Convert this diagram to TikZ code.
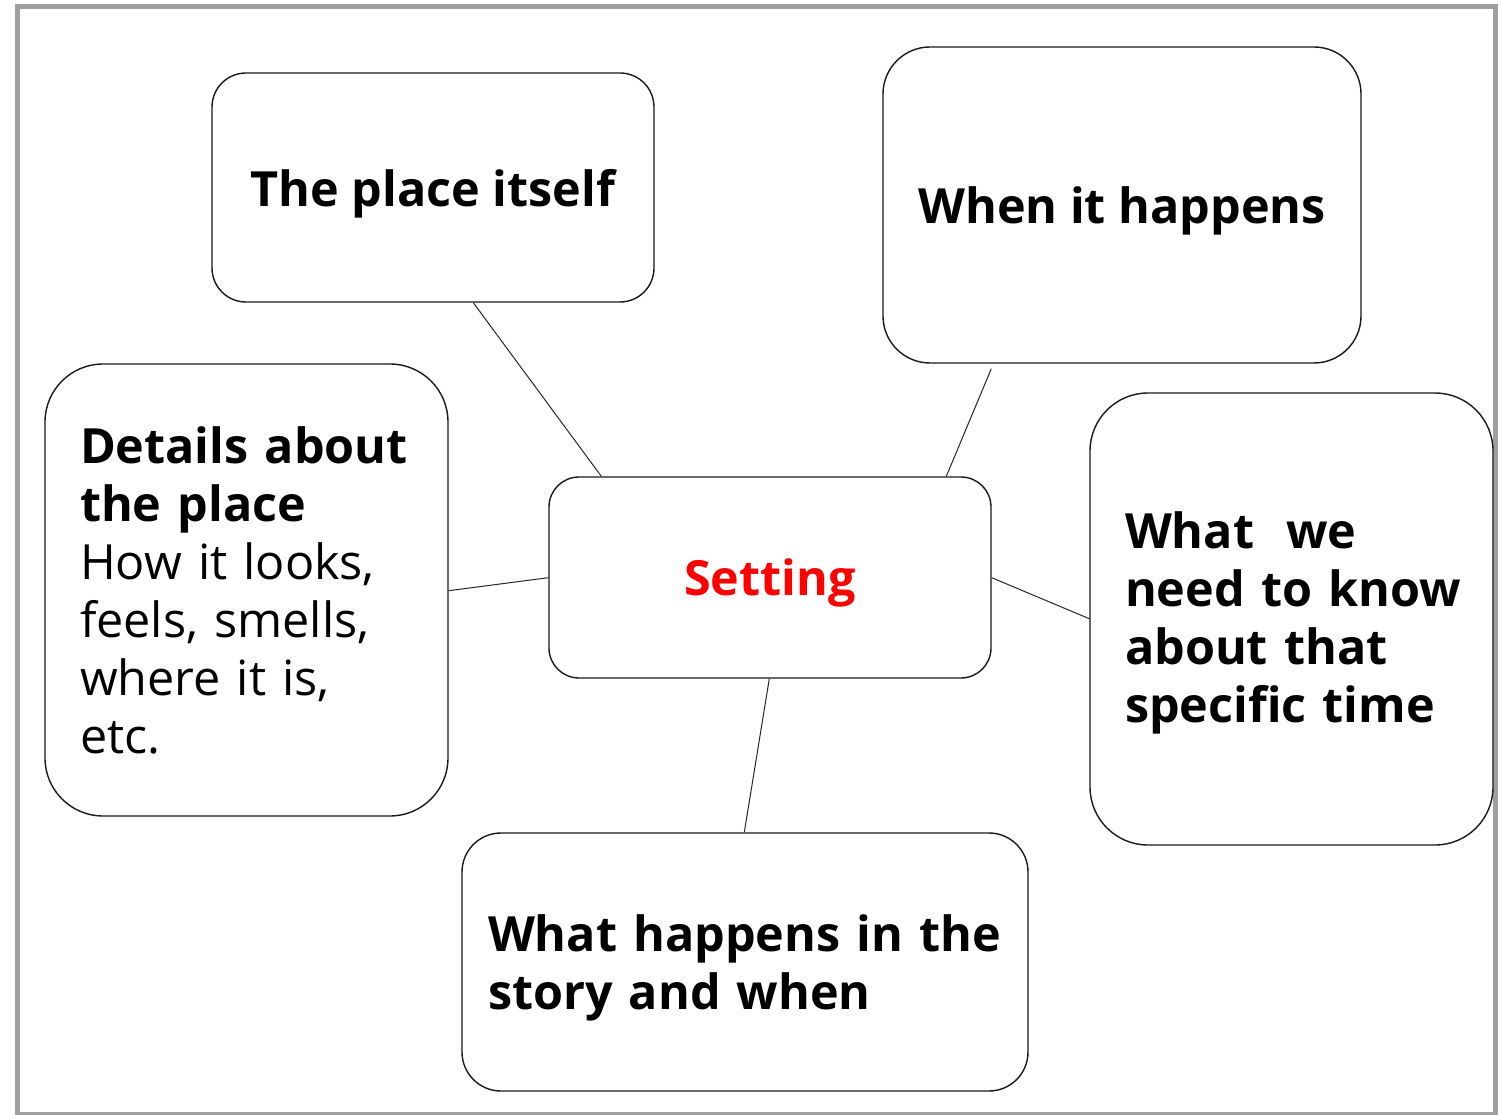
\documentclass[tikz,border=0pt]{standalone}
\usepackage{fontspec}
\setmainfont{Open Sans}
\usetikzlibrary{calc}
\definecolor{framegray}{HTML}{A0A0A0}
\definecolor{settingred}{HTML}{FF0000}
\begin{document}
\begin{tikzpicture}[x=1pt,y=-1pt,
  box/.style={draw=black!90, line width=1.4pt, rounded corners=#1, fill=white,
    font=\fontsize{48.5}{58}\selectfont\bfseries, inner sep=0pt},
  oneline/.style={text depth=0pt},
  leftbox/.style={align=left},
  link/.style={draw=black!85, line width=1pt}]
\useasboundingbox (0,0) rectangle (1502,1115);
\draw[framegray, line width=5pt] (17.5,7) -- (1495.5,7) -- (1495.5,1114) -- (17.5,1114) -- cycle;
\draw[framegray, line width=1.5pt] (17.5,1114.2) -- (1495.5,1114.2);

\node[box=34, oneline, minimum width=442, minimum height=229] (place) at (433,187.5) {The place itself};
\node[box=47, oneline, minimum width=478, minimum height=316] (when) at (1122,205) {When it happens};
\node[box=58, minimum width=403, minimum height=452, text width=333, inner xsep=35, leftbox] (details) at (246.5,590)
  {Details about\\the place\\\mdseries How it looks,\\\mdseries feels, smells,\\\mdseries where it is,\\\mdseries etc.};
\node[box=30, oneline, minimum width=442, minimum height=201, text=settingred] (setting) at (770,577.5) {Setting};
\node[box=58, minimum width=403, minimum height=452, text width=333, inner xsep=35, leftbox] (need) at (1291.5,619)
  {\rule{0pt}{45pt}What\ \ we\\\mbox{need to know}\\about that\\specific time};
\node[box=39, minimum width=566, minimum height=258, text width=514, inner xsep=26, leftbox] (happens) at (745,962)
  {\rule{0pt}{49pt}\mbox{What happens in the}\\story and when};

\draw[link] ($(place.south west)+(262,0)$) -- ($(setting.north west)+(53,0)$);
\draw[link] ($(when.south west)+(109,5)$) -- ($(setting.north west)+(398,0)$);
\draw[link] ($(details.south east)+(0,-226)$) -- ($(setting.south west)+(0,-101)$);
\draw[link] ($(setting.south east)+(0,-101)$) -- ($(need.south west)+(0,-227)$);
\draw[link] ($(setting.south west)+(221,0)$) -- ($(happens.north west)+(283,0)$);
\end{tikzpicture}
\end{document}
